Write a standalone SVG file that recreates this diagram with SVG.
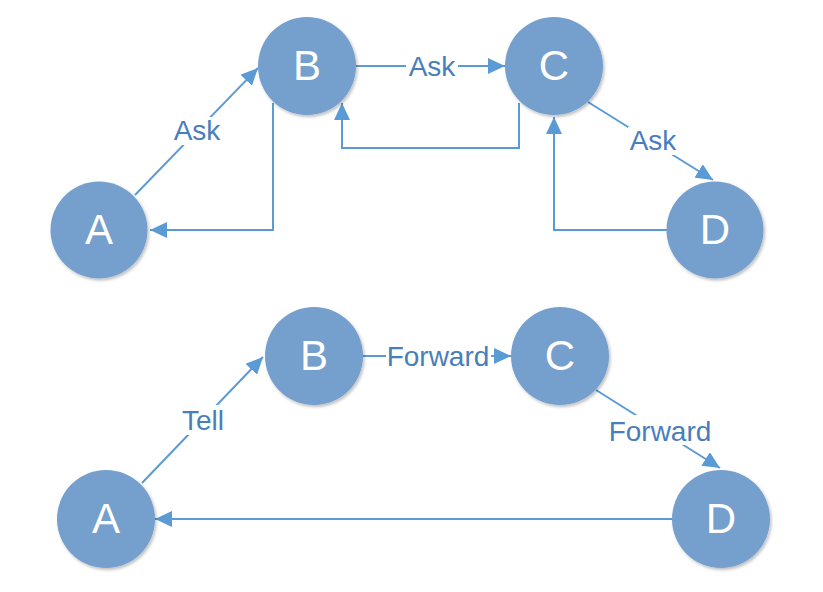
<svg xmlns="http://www.w3.org/2000/svg" width="823" height="592" viewBox="0 0 823 592">
<style>
.node circle{fill:#759fcd;filter:url(#sh)}
.node text{fill:#fff;font-family:"Liberation Sans",Arial,sans-serif;font-size:42px;text-anchor:middle}
.edge{fill:none;stroke:#5b9bd5;stroke-width:2;marker-end:url(#arr)}
.lbg{fill:#fff}
.lbl{fill:#4a7ebb;font-family:"Liberation Sans",Arial,sans-serif;font-size:28px;text-anchor:middle}
</style>
<defs>
<filter id="sh" x="-20%" y="-20%" width="150%" height="150%">
<feDropShadow dx="1.5" dy="2" stdDeviation="1.5" flood-color="#000" flood-opacity="0.25"/>
</filter>
<marker id="arr" viewBox="0 0 17 16" refX="17" refY="8" markerWidth="17" markerHeight="16" markerUnits="userSpaceOnUse" orient="auto">
<path d="M0,0 L17,8 L0,16 z" fill="#5b9bd5"/>
</marker>
</defs>
<rect width="823" height="592" fill="#fff"/>
<g id="connectors">
<path class="edge" d="M135,195 L258,68"/>
<path class="edge" d="M273,103 L273,230 L150,230"/>
<path class="edge" d="M356,66 L505,66"/>
<path class="edge" d="M519,103 L519,148 L342,148 L342,103"/>
<path class="edge" d="M588,102 L713,180"/>
<path class="edge" d="M667,230 L554,230 L554,117"/>
<path class="edge" d="M142,483 L263,357"/>
<path class="edge" d="M363,356 L511,356"/>
<path class="edge" d="M596,390 L720,468"/>
<path class="edge" d="M673,519 L155,519"/>
<rect class="lbg" x="172" y="117" width="50" height="28"/>
<text class="lbl" x="197" y="140">Ask</text>
<rect class="lbg" x="406" y="53" width="52" height="28"/>
<text class="lbl" x="432" y="76">Ask</text>
<rect class="lbg" x="628" y="127" width="50" height="28"/>
<text class="lbl" x="653" y="150">Ask</text>
<rect class="lbg" x="179" y="405" width="48" height="30"/>
<text class="lbl" x="203" y="430">Tell</text>
<rect class="lbg" x="386" y="342" width="105" height="28"/>
<text class="lbl" x="438" y="366">Forward</text>
<rect class="lbg" x="606" y="415" width="108" height="30"/>
<text class="lbl" x="660" y="441">Forward</text>
</g>
<g id="nodeA1" class="node"><circle cx="99" cy="230" r="48.5"/><text x="99" y="244">A</text></g>
<g id="nodeB1" class="node"><circle cx="307" cy="66" r="49"/><text x="307" y="80">B</text></g>
<g id="nodeC1" class="node"><circle cx="554" cy="66" r="49"/><text x="554" y="80">C</text></g>
<g id="nodeD1" class="node"><circle cx="715" cy="230" r="48.5"/><text x="715" y="244">D</text></g>
<g id="nodeA2" class="node"><circle cx="106" cy="519" r="49"/><text x="106" y="533">A</text></g>
<g id="nodeB2" class="node"><circle cx="314" cy="356" r="49"/><text x="314" y="370">B</text></g>
<g id="nodeC2" class="node"><circle cx="560" cy="356" r="49"/><text x="560" y="370">C</text></g>
<g id="nodeD2" class="node"><circle cx="721" cy="519" r="49"/><text x="721" y="533">D</text></g>
</svg>
